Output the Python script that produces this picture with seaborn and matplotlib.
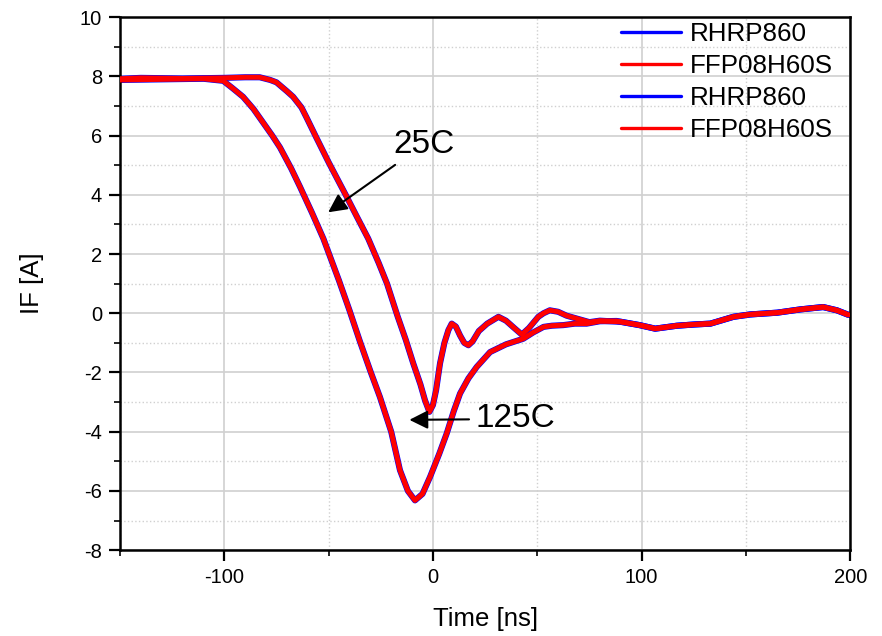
import numpy as np
import pandas as pd
import matplotlib
matplotlib.use('Agg')
import matplotlib.pyplot as plt
import seaborn as sns
from matplotlib.ticker import MultipleLocator

# reverse recovery current, 25C trace (time in ns, current in A)
t_25c = [-150, -140, -120, -100, -90, -83, -78, -75, -70, -67, -63, -60.5, -56, -50,
         -41.3, -36, -31, -26, -22, -17, -13, -9.4, -6, -3.8, -1.7, 0, 1.5, 3.4,
         5.5, 7.4, 9, 11, 13, 15, 17, 19, 22, 26, 31.4, 35, 39, 42.6, 46, 50.5,
         53, 56, 60, 64, 69, 75, 80, 90, 99, 106.5, 117, 125, 133, 144, 152, 165,
         176, 187, 193.6, 199]
if_25c = [7.92, 7.95, 7.93, 7.95, 7.97, 7.97, 7.88, 7.8, 7.5, 7.31, 6.95, 6.6, 5.95, 5.1,
          3.93, 3.2, 2.52, 1.7, 1.0, -0.09, -0.9, -1.7, -2.4, -2.94, -3.33, -3.1, -2.6, -1.69,
          -1.0, -0.57, -0.35, -0.45, -0.75, -1.0, -1.08, -0.95, -0.6, -0.35, -0.12, -0.25, -0.5, -0.72, -0.5, -0.12,
          0.0, 0.1, 0.05, -0.08, -0.18, -0.3, -0.25, -0.29, -0.4, -0.52, -0.42, -0.38, -0.35, -0.12, -0.04, 0.02,
          0.13, 0.21, 0.1, -0.05]

# 125C trace
t_125c = [-150, -130, -110, -100.5, -96, -91, -86, -81, -77, -73.3, -68, -63.7, -58, -52.5,
          -45, -40, -35, -30, -25.4, -20, -15.8, -12, -8.6, -5, -1.4, 3, 6.6, 10, 13,
          17, 21, 27.4, 35, 43.3, 48, 53, 57, 62.5, 68, 73.7, 80, 88, 99, 106.5, 117,
          125, 133, 144, 152, 165, 176, 187, 193.6, 199]
if_125c = [7.88, 7.9, 7.92, 7.85, 7.6, 7.31, 6.9, 6.4, 6.0, 5.6, 4.9, 4.27, 3.4, 2.52,
           1.1, 0.1, -0.95, -1.95, -2.83, -4.0, -5.3, -6.0, -6.32, -6.1, -5.53, -4.75, -4.06, -3.3, -2.71,
           -2.2, -1.81, -1.31, -1.05, -0.86, -0.65, -0.46, -0.42, -0.4, -0.35, -0.35, -0.27, -0.26, -0.4, -0.52, -0.42,
           -0.38, -0.35, -0.12, -0.04, 0.02, 0.13, 0.21, 0.1, -0.05]

devices = ['RHRP860', 'FFP08H60S']
device_colors = ['blue', 'red']

sns.set_style('white')
plt.rcParams['font.family'] = ['Liberation Sans', 'DejaVu Sans']
plt.rcParams['axes.unicode_minus'] = False
plt.rcParams['text.color'] = 'black'
plt.rcParams['axes.labelcolor'] = 'black'

fig = plt.figure(figsize=(8.82, 6.36), dpi=100)
ax = fig.add_axes([0.136, 0.135, 0.828, 0.838])

# blue traces sit underneath the red ones
for t, i in [(t_25c, if_25c), (t_125c, if_125c)]:
    for dev, col in zip(devices, device_colors):
        w = 4.4 if col == 'blue' else 3.6
        z = 2 if col == 'blue' else 3
        sns.lineplot(x=t, y=i, color=col, lw=w, label=dev, ax=ax, zorder=z)

ax.set_xlim(-150, 200)
ax.set_ylim(-8, 10)
ax.xaxis.set_major_locator(MultipleLocator(100))
ax.xaxis.set_minor_locator(MultipleLocator(50))
ax.yaxis.set_major_locator(MultipleLocator(2))
ax.yaxis.set_minor_locator(MultipleLocator(1))

ax.grid(which='major', color='#d0d0d0', lw=1.2, ls='-')
ax.grid(which='minor', color='#d0d0d0', lw=1.0, ls=':')
ax.set_axisbelow(True)

for s in ax.spines.values():
    s.set_visible(True)
    s.set_color('black')
    s.set_linewidth(1.8)

ax.tick_params(which='major', direction='out', length=8, width=1.6,
               labelsize=14.5, colors='black', bottom=True, left=True,
               top=False, right=False, pad=5)
ax.tick_params(which='minor', direction='out', length=4.5, width=1.4,
               bottom=True, left=True, top=False, right=False)

ax.set_xlabel('Time [ns]', fontsize=18.5, labelpad=14)
ax.set_ylabel('IF [A]', fontsize=18.5, labelpad=26)

leg = ax.legend(loc='upper right', bbox_to_anchor=(0.984, 1.0), frameon=False,
                fontsize=18.7, handlelength=2.3, labelspacing=0.3,
                borderaxespad=0.1, borderpad=0.1, handletextpad=0.35)
for h in leg.get_lines():
    h.set_linewidth(2.4)

arrow = dict(arrowstyle='-|>', color='black', lw=1.5, mutation_scale=28,
             shrinkA=2, shrinkB=0)
ax.annotate('25C', xy=(-50.2, 3.41), xytext=(-19, 5.7), fontsize=24,
            ha='left', va='center', arrowprops=arrow)
ax.annotate('125C', xy=(-11.3, -3.6), xytext=(20.2, -3.57), fontsize=24,
            ha='left', va='center', arrowprops=arrow)

fig.savefig('out.png', dpi=100)
